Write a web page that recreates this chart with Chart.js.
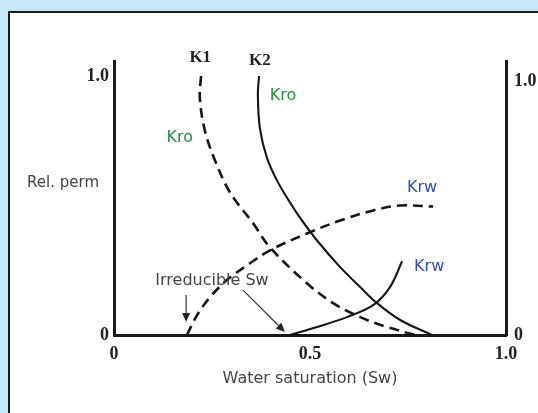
<!DOCTYPE html>
<html>
<head>
<meta charset="utf-8">
<script src="https://cdn.jsdelivr.net/npm/chart.js@4/dist/chart.umd.min.js"></script>
<style>
  html, body { margin:0; padding:0; }
  body { width:538px; height:413px; overflow:hidden; background:#c5e8f8; position:relative; }
  .frame { position:absolute; left:8px; top:11px; width:600px; height:500px; border:2px solid #1c1c1c; background:#fff; }
  .plot { position:absolute; left:0; top:0; width:528px; height:400px; }
</style>
</head>
<body>
<div class="frame"><div class="plot"><canvas id="relperm" width="528" height="400"></canvas></div></div>
<script>
// axis ticks
const xTicks      = [0, 0.5, 1.0];
const xTickLabels = ['0', '0.5', '1.0'];
const yTicks      = [0, 1.0];
const yTickLabels = ['0', '1.0'];

// K1 (dashed) curves
const k1KroSw = [0.222, 0.219, 0.232, 0.258, 0.296, 0.355, 0.398, 0.492, 0.559, 0.628, 0.696, 0.768];
const k1Kro   = [1.0, 0.915, 0.788, 0.673, 0.55, 0.431, 0.338, 0.2, 0.123, 0.069, 0.031, 0];
const k1KrwSw = [0.186, 0.212, 0.245, 0.288, 0.347, 0.398, 0.492, 0.577, 0.661, 0.73, 0.814];
const k1Krw   = [0, 0.077, 0.146, 0.212, 0.277, 0.327, 0.392, 0.442, 0.481, 0.5, 0.496];

// K2 (solid) curves
const k2KroSw = [0.37, 0.367, 0.372, 0.39, 0.416, 0.441, 0.474, 0.518, 0.577, 0.628, 0.671, 0.73, 0.811];
const k2Kro   = [1.0, 0.93, 0.8, 0.685, 0.596, 0.531, 0.454, 0.365, 0.262, 0.185, 0.123, 0.058, 0];
const k2KrwSw = [0.449, 0.518, 0.594, 0.661, 0.704, 0.735];
const k2Krw   = [0, 0.031, 0.069, 0.115, 0.185, 0.285];

const pts = (xs, ys) => xs.map((v, i) => ({x: v, y: ys[i]}));

const serif = '"Liberation Serif", "Times New Roman", serif';
const sans  = '"DejaVu Sans", sans-serif';
const ink   = '#161616';

// text notes placed in (Sw, Kr) units
const notes = [
  {text:'K1', sw:0.22, kr:1.07, font:`bold 17px ${serif}`, color:'#222'},
  {text:'K2', sw:0.372, kr:1.06, font:`bold 17px ${serif}`, color:'#222'},
  {text:'Kro', sw:0.431, kr:0.925, font:`16px ${sans}`, color:'#23923f'},
  {text:'Kro', sw:0.168, kr:0.762, font:`16px ${sans}`, color:'#23923f'},
  {text:'Krw', sw:0.786, kr:0.569, font:`16px ${sans}`, color:'#3651b3'},
  {text:'Krw', sw:0.804, kr:0.262, font:`16px ${sans}`, color:'#3651b3'},
  {text:'Irreducible Sw', sw:0.25, kr:0.208, font:`16px ${sans}`, color:'#444'},
  {text:'Rel. perm', sw:-0.13, kr:0.588, font:`15px ${sans}`, color:'#444'}
];
const arrows = [
  {from:[0.184, 0.154], to:[0.184, 0.05]},
  {from:[0.329, 0.173], to:[0.436, 0.012]}
];

const notesPlugin = {
  id: 'notes',
  afterDatasetsDraw(chart) {
    const {ctx, scales:{x, y}} = chart;
    const px = v => x.getPixelForValue(v), py = v => y.getPixelForValue(v);
    ctx.save();
    ctx.textAlign = 'center';
    ctx.textBaseline = 'middle';
    notes.forEach(n => {
      ctx.font = n.font;
      ctx.fillStyle = n.color;
      ctx.fillText(n.text, px(n.sw), py(n.kr));
    });
    ctx.strokeStyle = '#333';
    ctx.fillStyle = '#222';
    ctx.lineWidth = 1.2;
    arrows.forEach(a => {
      const x1 = px(a.from[0]), y1 = py(a.from[1]);
      const x2 = px(a.to[0]),   y2 = py(a.to[1]);
      const ang = Math.atan2(y2 - y1, x2 - x1);
      const hl = 9, hw = 4;
      ctx.beginPath();
      ctx.moveTo(x1, y1);
      ctx.lineTo(x2 - hl * Math.cos(ang), y2 - hl * Math.sin(ang));
      ctx.stroke();
      ctx.beginPath();
      ctx.moveTo(x2, y2);
      ctx.lineTo(x2 - hl * Math.cos(ang) + hw * Math.sin(ang), y2 - hl * Math.sin(ang) - hw * Math.cos(ang));
      ctx.lineTo(x2 - hl * Math.cos(ang) - hw * Math.sin(ang), y2 - hl * Math.sin(ang) + hw * Math.cos(ang));
      ctx.closePath();
      ctx.fill();
    });
    ctx.restore();
  }
};

const curve = (data, dashed) => ({
  data, showLine: true, pointRadius: 0, borderColor: ink,
  borderWidth: dashed ? 2.6 : 2.1, borderDash: dashed ? [10, 6] : [],
  tension: 0.35, fill: false
});

const tickFont = {family: serif, size: 18, weight: 'bold'};
const axisBorder = {display: true, color: '#1a1a1a', width: 3};

new Chart(document.getElementById('relperm'), {
  type: 'scatter',
  data: {
    datasets: [
      curve(pts(k1KroSw, k1Kro), true),
      curve(pts(k1KrwSw, k1Krw), true),
      curve(pts(k2KroSw, k2Kro), false),
      curve(pts(k2KrwSw, k2Krw), false)
    ]
  },
  options: {
    responsive: false,
    animation: false,
    devicePixelRatio: 1,
    layout: { padding: {top: 48, left: 0, right: 0, bottom: 0} },
    plugins: { legend: {display: false}, tooltip: {enabled: false} },
    scales: {
      x: {
        type: 'linear', position: 'bottom', min: 0, max: 1,
        grid: {display: false, drawTicks: false}, border: axisBorder,
        afterBuildTicks: s => { s.ticks = xTicks.map(v => ({value: v})); },
        afterFit: s => { s.height = 78; },
        ticks: {autoSkip: false, maxRotation: 0, padding: 9, color: '#222', font: tickFont,
                callback: (v, i) => xTickLabels[i]},
        title: {display: true, text: 'Water saturation (Sw)', color: '#444',
                font: {family: sans, size: 16}, padding: {top: 0, bottom: 25}}
      },
      y: {
        type: 'linear', position: 'left', min: 0, max: 1.058,
        grid: {display: false, drawTicks: false}, border: axisBorder,
        afterBuildTicks: s => { s.ticks = yTicks.map(v => ({value: v})); },
        afterFit: s => { s.width = 104; },
        ticks: {autoSkip: false, padding: 5, color: '#222', font: tickFont,
                callback: (v, i) => yTickLabels[i]}
      },
      y2: {
        type: 'linear', position: 'right', min: 0, max: 1.079,
        grid: {display: false, drawTicks: false}, border: axisBorder,
        afterBuildTicks: s => { s.ticks = yTicks.map(v => ({value: v})); },
        afterFit: s => { s.width = 32; },
        ticks: {autoSkip: false, padding: 8, color: '#222', font: tickFont,
                callback: (v, i) => yTickLabels[i]}
      }
    }
  },
  plugins: [notesPlugin]
});
</script>
</body>
</html>
